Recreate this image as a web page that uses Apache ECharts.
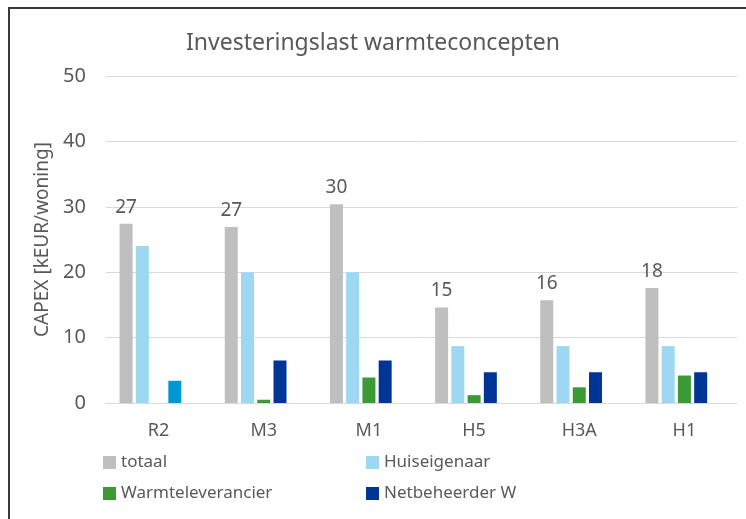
<!DOCTYPE html>
<html>
<head>
<meta charset="utf-8">
<script src="https://cdn.jsdelivr.net/npm/echarts@6/dist/echarts.min.js"></script>
<style>
  html, body { margin: 0; padding: 0; background: #fff; }
  #chart { width: 746px; height: 519px; }
</style>
</head>
<body>
<div id="chart"></div>
<script>
// data
const categories = ['R2', 'M3', 'M1', 'H5', 'H3A', 'H1'];
const totaal = [27.4, 26.9, 30.4, 14.6, 15.7, 17.6];
const huiseigenaar = [24.0, 20.0, 20.0, 8.7, 8.7, 8.7];
const warmteleverancier = [0, 0.5, 3.9, 1.2, 2.4, 4.2];
const netbeheerder = [3.4, 6.5, 6.5, 4.7, 4.7, 4.7];

const txt = '#595959';
const font = 'Noto Sans';

// R2 netbeheerder bar is drawn in a lighter blue in the original
const netData = netbeheerder.map((v, i) =>
  i === 0 ? { value: v, itemStyle: { color: '#0096d6' } } : v);

const bw = 13, gap = '25%';

const chart = echarts.init(document.getElementById('chart'));
chart.setOption({
  animation: false,
  textStyle: { fontFamily: font },
  title: {
    text: 'Investeringslast warmteconcepten',
    left: 'center',
    top: 27,
    textStyle: { fontSize: 23, fontWeight: 'normal', color: txt, fontFamily: font }
  },
  graphic: [{
    type: 'rect',
    shape: { x: 9, y: 8, width: 900, height: 700 },
    style: { fill: 'none', stroke: '#3a3a3a', lineWidth: 2 },
    silent: true
  }],
  legend: [{
    data: ['totaal', 'Warmteleverancier'],
    orient: 'vertical',
    left: 98, top: 449,
    itemWidth: 13, itemHeight: 13, itemGap: 14,
    icon: 'rect',
    textStyle: { fontSize: 17, color: txt, fontFamily: font }
  }, {
    data: ['Huiseigenaar', 'Netbeheerder W'],
    orient: 'vertical',
    left: 361, top: 449,
    itemWidth: 13, itemHeight: 13, itemGap: 14,
    icon: 'rect',
    textStyle: { fontSize: 17, color: txt, fontFamily: font }
  }],
  grid: { left: 106, right: 9, top: 76, bottom: 116 },
  xAxis: {
    type: 'category',
    data: categories,
    axisLine: { lineStyle: { color: '#d9d9d9' } },
    axisTick: { length: 6, lineStyle: { color: '#d9d9d9' } },
    axisLabel: { fontSize: 18, color: txt, margin: 19, fontFamily: font }
  },
  yAxis: {
    type: 'value',
    min: 0, max: 50, interval: 10,
    name: 'CAPEX [kEUR/woning]',
    nameLocation: 'middle',
    nameGap: 49,
    nameTextStyle: { fontSize: 19, color: txt, fontFamily: font },
    axisLabel: { fontSize: 20, color: txt, margin: 20, fontFamily: font },
    splitLine: { lineStyle: { color: '#d9d9d9' } }
  },
  series: [{
    name: 'totaal', type: 'bar', data: totaal,
    barWidth: bw, barGap: gap,
    itemStyle: { color: '#bfbfbf' },
    label: {
      show: true, position: 'top', distance: 7,
      fontSize: 19, color: txt, fontFamily: font,
      formatter: p => Math.round(p.value)
    }
  }, {
    name: 'Huiseigenaar', type: 'bar', data: huiseigenaar,
    barWidth: bw, barGap: gap,
    itemStyle: { color: '#9dd7f1' }
  }, {
    name: 'Warmteleverancier', type: 'bar', data: warmteleverancier,
    barWidth: bw, barGap: gap,
    itemStyle: { color: '#3a9a35' }
  }, {
    name: 'Netbeheerder W', type: 'bar', data: netData,
    barWidth: bw, barGap: gap,
    itemStyle: { color: '#003595' }
  }, {
    // empty fifth slot, keeps the bar groups shifted left as in the original
    name: 'leeg', type: 'bar', data: categories.map(() => '-'),
    barWidth: bw, barGap: gap
  }]
});
</script>
</body>
</html>
